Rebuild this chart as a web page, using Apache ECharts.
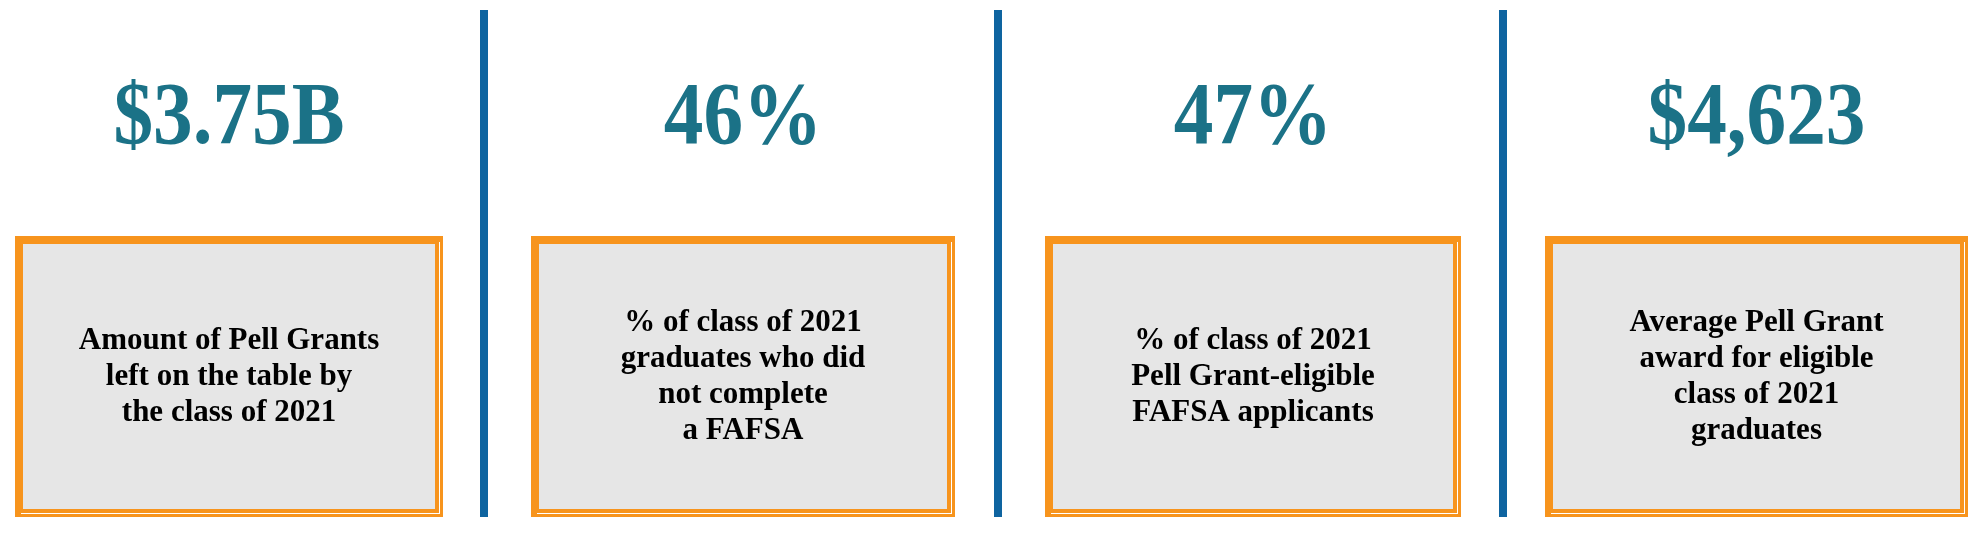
<!DOCTYPE html>
<html lang="en">
<head>
  <meta charset="UTF-8">
  <title>Pell Grants</title>
  <script src="https://cdn.jsdelivr.net/npm/echarts@6/dist/echarts.min.js"></script>
  <style>
    html, body { margin: 0; padding: 0; background: #fff; }
    #wrap { width: 1988px; height: 534px; }
  </style>
</head>
<body>
<div id="wrap"></div>
<script>
  const values = ["$3.75B", "46%", "47%", "$4,623"]
  const labels = [
    "Amount of Pell Grants\nleft on the table by\nthe class of 2021",
    "% of class of 2021\ngraduates who did\nnot complete\na FAFSA",
    "% of class of 2021\nPell Grant-eligible\nFAFSA applicants",
    "Average Pell Grant\naward for eligible\nclass of 2021\ngraduates"
  ]

  const chart = echarts.init(document.querySelector("#wrap"))

  // panel boxes (left, right) and divider positions
  const boxes = [[15, 443], [531, 955], [1045, 1461], [1545, 1968]]
  const dividers = [484, 998, 1503]
  const boxTop = 236, boxBottom = 517
  const font = '"Liberation Serif", "DejaVu Serif", serif'

  const elements = []
  dividers.forEach(x => {
    elements.push({ type: 'rect', shape: { x: x - 4, y: 10, width: 8, height: 507 }, style: { fill: '#0e64a0' } })
  })
  boxes.forEach(([l, r], i) => {
    const w = r - l, h = boxBottom - boxTop
    const cx = (l + r) / 2
    elements.push({ type: 'rect', shape: { x: l, y: boxTop, width: w, height: h }, style: { fill: '#f7941d' } })
    elements.push({ type: 'rect', shape: { x: l + 6, y: boxTop + 6, width: w - 9, height: h - 9 }, style: { fill: '#ffffff' } })
    elements.push({ type: 'rect', shape: { x: l + 6, y: boxTop + 6, width: w - 10, height: h - 10 }, style: { fill: '#f7941d' } })
    elements.push({ type: 'rect', shape: { x: l + 8, y: boxTop + 8, width: w - 16, height: h - 16 }, style: { fill: '#e6e6e6' } })
    elements.push({
      type: 'text', x: cx, y: 120, scaleX: 0.9,
      style: { text: values[i], font: 'bold 88px ' + font, fill: '#1b7287', align: 'center', verticalAlign: 'middle' }
    })
    elements.push({
      type: 'text', x: cx, y: (boxTop + boxBottom) / 2,
      style: { text: labels[i], font: 'bold 31px ' + font, lineHeight: 36, fill: '#000', align: 'center', verticalAlign: 'middle' }
    })
  })

  chart.setOption({ animation: false, graphic: { elements } })
</script>
</body>
</html>
